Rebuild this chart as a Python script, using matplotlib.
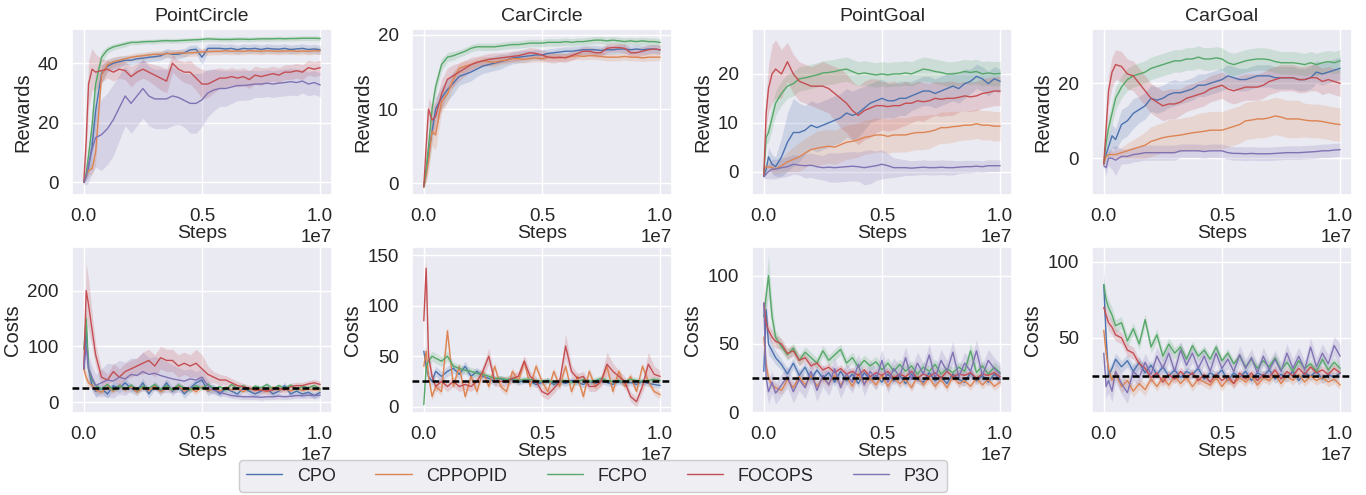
import matplotlib
matplotlib.use("Agg")
import matplotlib.pyplot as plt
import seaborn as sns
import numpy as np

sns.set_theme(style="darkgrid")
plt.rcParams['font.family'] = ['Liberation Sans', 'DejaVu Sans']

algos = ["CPO", "CPPOPID", "FCPO", "FOCOPS", "P3O"]
colors = sns.color_palette("deep")[:5]
envs = ["PointCircle", "CarCircle", "PointGoal", "CarGoal"]
cost_limit = 25

# training steps, in millions
steps_m = [0, 0.1, 0.2, 0.35, 0.5,
           0.75, 1.0, 1.25, 1.5, 1.75, 2.0, 2.25, 2.5, 2.75, 3.0,
           3.25, 3.5, 3.75, 4.0, 4.25, 4.5, 4.75, 5.0, 5.25, 5.5,
           5.75, 6.0, 6.25, 6.5, 6.75, 7.0, 7.25, 7.5, 7.75, 8.0,
           8.25, 8.5, 8.75, 9.0, 9.25, 9.5, 9.75, 10.0]

# ---------------- rewards ----------------
# PointCircle
pc_r_cpo = [0, 2, 5, 12, 24,
            36.5, 39, 40, 40.5, 41, 41, 41.5, 41.7, 42, 42.2,
            42.5, 43.4, 43, 43, 43.5, 44.5, 44.7, 42, 45, 45,
            45, 44.8, 45, 44.5, 45, 44.8, 45, 44.6, 45, 44.8,
            44.7, 45, 44.6, 44.8, 45, 44.6, 44.8, 44.5]
pc_r_cpo_sd = [0.5, 1.5, 3, 5, 6,
               3, 2, 2, 1.8, 1.5, 1.5, 1.5, 1.5, 1.5, 1.5,
               1.5, 1.5, 1.5, 1.5, 1.5, 1.5, 1.5, 2.5, 1.5, 1.5,
               1.5, 1.5, 1.5, 1.5, 1.5, 1.5, 1.5, 1.5, 1.5, 1.5,
               1.5, 1.5, 1.5, 1.5, 1.5, 1.5, 1.5, 1.5]
pc_r_cppopid = [0, 2, 4, 4.5, 10,
                36, 39.5, 40.5, 41, 41.5, 42, 42.3, 42.5, 42.8, 43,
                43, 43.2, 43.3, 43.5, 43.4, 43.5, 43.6, 43.8, 43.9, 44,
                44, 44.2, 44, 44.1, 44, 44.2, 44.1, 44, 44.2, 44.1,
                44, 44.1, 44.2, 44, 44.1, 44, 44.2, 44.1]
pc_r_cppopid_sd = [0.5, 1, 1.5, 2, 4,
                   3, 2, 1.5, 1.5, 1.2, 1.2, 1.2, 1.2, 1.2, 1.2,
                   1.2, 1.2, 1.2, 1.2, 1.2, 1.2, 1.2, 1.2, 1.2, 1.2,
                   1.2, 1.2, 1.2, 1.2, 1.2, 1.2, 1.2, 1.2, 1.2, 1.2,
                   1.2, 1.2, 1.2, 1.2, 1.2, 1.2, 1.2, 1.2]
pc_r_fcpo = [0, 3, 9, 19, 33,
             42, 44.5, 45.5, 46, 46.5, 47, 47, 47.2, 47.3, 47.3,
             47.5, 47.6, 47.5, 47.6, 47.7, 47.8, 47.9, 48, 48.2, 48.1,
             48, 48, 48, 48.1, 48.1, 48, 48.1, 48.2, 48.2, 48.2,
             48.3, 48.2, 48.3, 48.3, 48.4, 48.4, 48.4, 48.3]
pc_r_fcpo_sd = [0.5, 1.5, 3, 4, 4,
                2, 1.2, 1, 1, 1, 0.8, 0.8, 0.8, 0.8, 0.8,
                0.8, 0.8, 0.8, 0.8, 0.8, 0.8, 0.8, 0.8, 0.8, 0.8,
                0.8, 0.8, 0.8, 0.8, 0.8, 0.8, 0.8, 0.8, 0.8, 0.8,
                0.8, 0.8, 0.8, 0.8, 0.8, 0.8, 0.8, 0.8]
pc_r_focops = [0, 14, 33, 38, 37,
               37.5, 38, 37, 38, 37.5, 35.5, 37, 38, 37, 36,
               35, 34, 40, 38, 37, 37, 35, 33, 33, 34,
               35, 35, 35.5, 35, 35.5, 34.5, 36, 35.5, 36, 36.5,
               36, 37, 37, 37.5, 37, 38.5, 38, 38.5]
pc_r_focops_sd = [1, 5, 8, 7, 6,
                  4, 3, 3, 3, 3, 3.5, 3, 3, 3, 3.5,
                  4, 4, 3, 3, 3.5, 4, 4, 5, 4.5, 4,
                  3.5, 3, 3, 3, 3, 3, 3, 3, 2.5, 2.5,
                  2.5, 2.5, 2.5, 2.5, 2.5, 2.5, 2.5, 2.5]
pc_r_p3o = [0, 2, 6, 11, 15,
            16, 18, 21, 25, 29, 26.5, 29, 31.5, 29, 28,
            28, 28, 29, 28.5, 27.5, 26.5, 26.5, 27.7, 30, 31,
            31.5, 31.5, 32, 32.5, 32.5, 32.7, 33, 33, 33.3, 33,
            33.3, 33.5, 33.8, 33.5, 34, 33, 33.5, 32.7]
pc_r_p3o_sd = [0.5, 3, 6, 8, 10,
               12, 12, 12, 11, 10, 10, 10, 10, 10, 10,
               10, 10, 10, 9, 9, 10, 10, 9, 8, 7,
               6, 6, 5.5, 5, 5, 5, 4.5, 4.5, 4.5, 4.5,
               4.5, 4.5, 4.5, 4.5, 4, 4, 4, 4]

# CarCircle (no P3O)
cc_r_cpo = [-0.5, 1.5, 4, 7, 10,
            11.5, 12.6, 13.5, 14.4, 14.7, 15, 15.4, 15.8, 16, 16.2,
            16.4, 16.6, 16.9, 17, 17.1, 17.2, 17.3, 17.3, 17.5, 17.6,
            17.7, 17.8, 17.8, 17.9, 18, 18, 18, 17.9, 18, 18,
            18.1, 18.1, 18, 18.1, 18, 18.1, 18.1, 18]
cc_r_cpo_sd = [0.2, 1, 1.5, 1.5, 1.5,
               1.5, 1.5, 1.5, 1.2, 1.2, 1.2, 1, 1, 1, 1,
               1, 0.8, 0.8, 0.8, 0.8, 0.7, 0.7, 0.7, 0.6, 0.6,
               0.6, 0.6, 0.6, 0.6, 0.6, 0.6, 0.6, 0.6, 0.6, 0.6,
               0.6, 0.6, 0.6, 0.6, 0.6, 0.6, 0.6, 0.6]
cc_r_cppopid = [-0.5, 1, 3, 7, 6.5,
                11, 12, 14, 15.5, 15.8, 16, 16.3, 16.5, 16.4, 16.3,
                16.5, 16.6, 16.8, 16.8, 16.7, 16.8, 16.9, 16.8, 17, 17,
                16.9, 17, 17.1, 17.2, 17.1, 17.2, 17.2, 17.1, 17, 17,
                17, 17.1, 17, 17, 16.9, 17, 17, 17]
cc_r_cppopid_sd = [0.2, 0.8, 1.5, 2, 2,
                   1.5, 1.2, 1, 0.8, 0.8, 0.6, 0.6, 0.6, 0.6, 0.6,
                   0.5, 0.5, 0.5, 0.5, 0.5, 0.5, 0.5, 0.5, 0.5, 0.5,
                   0.5, 0.5, 0.5, 0.5, 0.5, 0.5, 0.5, 0.5, 0.5, 0.5,
                   0.5, 0.5, 0.5, 0.5, 0.5, 0.5, 0.5, 0.5]
cc_r_fcpo = [-0.5, 2, 5, 10, 13,
             16, 17, 17.2, 17.5, 17.8, 18.2, 18.4, 18.4, 18.4, 18.4,
             18.5, 18.6, 18.7, 18.7, 18.8, 18.9, 18.9, 18.9, 19, 19,
             19, 19.1, 19, 19.1, 19.1, 19.2, 19.3, 19.3, 19.2, 19.3,
             19.2, 19.1, 19.2, 19.1, 19.2, 19.1, 19.1, 19.0]
cc_r_fcpo_sd = [0.2, 1, 1.5, 1.5, 1,
                0.8, 0.6, 0.6, 0.5, 0.5, 0.5, 0.5, 0.5, 0.5, 0.5,
                0.5, 0.5, 0.5, 0.5, 0.5, 0.5, 0.5, 0.5, 0.5, 0.5,
                0.5, 0.5, 0.5, 0.5, 0.5, 0.5, 0.5, 0.5, 0.5, 0.5,
                0.5, 0.5, 0.5, 0.5, 0.5, 0.5, 0.5, 0.5]
cc_r_focops = [-0.5, 5, 10, 8.5, 9,
               12, 14, 14.5, 15, 15.5, 16, 16.3, 16.5, 16.7, 16.8,
               16.9, 17, 17.1, 17.2, 17.4, 17.6, 17.5, 17.3, 17, 16.9,
               17, 16.9, 17.2, 17.5, 17.8, 17.8, 17.6, 17.6, 18.2, 18.3,
               18.3, 18.2, 17.6, 17.6, 17.8, 18, 18.1, 18]
cc_r_focops_sd = [0.2, 1.5, 1.5, 2, 2,
                  2, 1.5, 1.5, 1.2, 1, 1, 0.8, 0.8, 0.8, 0.8,
                  0.7, 0.7, 0.7, 0.7, 0.7, 0.7, 0.7, 0.7, 0.7, 0.7,
                  0.6, 0.6, 0.6, 0.6, 0.6, 0.6, 0.6, 0.6, 0.6, 0.6,
                  0.6, 0.6, 0.6, 0.6, 0.6, 0.6, 0.6, 0.6]

# PointGoal
pg_r_cpo = [-1, 0.5, 3, 1.5, 1,
            3, 6, 8, 8, 8.5, 9.5, 9, 9.5, 10, 10.5,
            11, 12, 11.5, 12, 13, 14, 14.5, 15, 14.5, 14.5,
            15, 15, 15.5, 16, 16.5, 16.5, 16, 16.5, 17, 17.5,
            17, 18, 18.5, 19.5, 19, 18, 19, 18.5]
pg_r_cpo_sd = [0.5, 1, 2, 2, 2,
               4, 6, 7, 6, 5, 5, 5, 5, 5, 5,
               5, 5, 5, 5, 4.5, 4, 4, 4, 3.5, 3.5,
               3.5, 3.5, 3, 3, 3, 3, 3, 3, 3, 3,
               3, 3, 2.5, 2.5, 2.5, 2.5, 2.5, 2.5]
pg_r_cppopid = [0.5, 1, 1, 0.8, 0.5,
                1.2, 2, 2.5, 3, 3.8, 4.5, 4.8, 5, 5.2, 5,
                5.5, 6, 6.2, 6.5, 7, 7.2, 7.5, 7.5, 7.2, 7.5,
                7.5, 7.5, 7.8, 8, 8, 8.2, 8.5, 9, 9, 9.2,
                9.3, 9.5, 9.5, 9.8, 9.5, 9.5, 9.3, 9.3]
pg_r_cppopid_sd = [0.3, 0.5, 1, 1, 1,
                   1.5, 2, 2.5, 3, 3, 3, 3.5, 3.5, 3.5, 3.5,
                   3.5, 3.5, 3.5, 3.5, 3.5, 3.5, 3.5, 3.5, 3.5, 3.5,
                   3.5, 3.5, 3.5, 3.5, 3.5, 3.5, 3.2, 3.2, 3.2, 3.2,
                   3, 3, 3, 3, 3, 3, 3, 3]
pg_r_fcpo = [-1, 7, 8, 11, 14,
             16, 17.5, 18, 19, 19.2, 19.5, 19.8, 20.2, 20.3, 20.5,
             20.8, 21, 20.5, 20, 20.2, 20, 19.8, 20, 19.8, 20,
             20, 20.2, 20, 20.5, 21, 20.8, 20.5, 20.3, 20, 20,
             20.2, 20.5, 20.3, 20.5, 20, 20.2, 20, 20.1]
pg_r_fcpo_sd = [0.5, 1.5, 2, 2.5, 2.5,
                2.5, 2.5, 2.5, 2.5, 2.5, 2.5, 2.5, 2.5, 2.5, 2.5,
                2.5, 2.5, 2.5, 2.5, 2.5, 2.5, 2.5, 2.5, 2.5, 2.5,
                2.5, 2.5, 2.5, 2.5, 2.5, 2.5, 2.5, 2.5, 2.5, 2.5,
                2.5, 2.5, 2.5, 2.5, 2.5, 2.5, 2.5, 2.5]
pg_r_focops = [-1, 12, 17, 20, 21,
               20, 22.5, 20, 18.5, 18, 17.5, 17.5, 17.5, 17, 16,
               15, 14, 12.5, 11.5, 12.5, 13, 13.5, 13.5, 13.3, 13.5,
               13.5, 14, 14, 14.5, 14.3, 14.5, 15, 14.8, 15, 15,
               15.2, 15.5, 15.3, 15.5, 16, 16.2, 16.5, 16.5]
pg_r_focops_sd = [0.5, 3, 5, 6, 6,
                  5, 4, 4, 4, 4, 4, 4.5, 5, 5, 5.5,
                  6, 6, 6, 6, 6, 6, 5.5, 5, 5, 5,
                  4.5, 4.5, 4, 4, 4, 3.5, 3.5, 3.5, 3.5, 3.5,
                  3, 3, 3, 3, 3, 3, 3, 3]
pg_r_p3o = [-1, -0.5, 0, 0.5, 0.5,
            0.8, 1, 1.5, 1.3, 1.2, 1.3, 1, 0.8, 0.9, 0.8,
            0.9, 1, 1.1, 1, 0.8, 1, 1.2, 1.5, 1.2, 0.8,
            0.8, 0.8, 0.7, 0.8, 0.9, 0.8, 0.8, 0.9, 0.8, 0.8,
            0.9, 1, 1, 1.1, 1, 1.2, 1.2, 1.2]
pg_r_p3o_sd = [0.3, 1, 1.5, 2, 2,
               2, 2, 2, 2, 2.5, 2.5, 2.5, 2.5, 3, 3,
               3, 3, 3, 3, 3.5, 3.5, 3, 3, 2.5, 2,
               1.8, 1.6, 1.5, 1.5, 1.5, 1.5, 1.5, 1.5, 1.5, 1.5,
               1.3, 1.3, 1.3, 1.2, 1.2, 1.2, 1.2, 1.2]

# CarGoal
cg_r_cpo = [-1.5, 1, 3, 6, 5,
            9, 10, 12, 13, 14, 16, 15.5, 16, 17, 17.5,
            17.5, 18, 18.5, 19.5, 19.5, 20, 20.5, 21, 22, 21.5,
            21, 21, 21.5, 22, 22, 22, 21.5, 21.5, 21.5, 21.5,
            21, 21, 21.5, 23, 22.5, 23, 23.5, 24]
cg_r_cpo_sd = [0.5, 2, 3, 3, 3,
               4, 4, 4, 3.5, 3.5, 3.5, 3.5, 3.5, 3.5, 3.5,
               3, 3, 3, 3, 3, 3, 3, 3, 3, 3,
               3, 3, 3, 3, 3, 3, 3, 3, 3, 3,
               3, 3, 3, 3, 3, 3, 3, 3]
cg_r_cppopid = [-1.5, 0.5, 1, 1, 1,
                1.5, 2, 2.5, 3, 3.5, 4.5, 5, 5.5, 5.8, 6,
                6.2, 6.5, 6.8, 7, 7.2, 7.5, 7.5, 7.5, 8, 8.5,
                9, 10, 10.2, 10.5, 10.5, 10.8, 11.3, 11, 10.5, 10.5,
                10.5, 10.2, 10, 10, 9.8, 9.5, 9.2, 9]
cg_r_cppopid_sd = [0.3, 0.5, 1, 1, 1,
                   1.5, 2, 2.5, 3, 3.5, 4, 4, 4, 4.5, 4.5,
                   4.5, 4.5, 4.5, 5, 5, 5, 5, 5, 5, 5,
                   5, 5, 5, 5, 5, 5, 5, 5, 5, 5,
                   5, 4.5, 4.5, 4.5, 4.5, 4.5, 4.5, 4.5]
cg_r_fcpo = [-1.5, 4, 8, 12, 16,
             19, 21, 22, 22.5, 23, 24, 24.5, 25, 25.5, 26,
             26, 26.5, 26.5, 27, 26.5, 26.5, 26.8, 26.5, 25.5, 25,
             25.5, 26, 26.3, 26.5, 26.5, 26.3, 25.8, 25.5, 25.5, 25.5,
             25.3, 25, 25.5, 25, 25.5, 25.8, 25.5, 26]
cg_r_fcpo_sd = [0.5, 2, 3, 3, 3,
                3, 3, 3, 3, 3, 3, 3, 3, 3, 3,
                3, 3, 3, 3, 3, 3, 3, 3, 3, 3,
                3, 3, 3, 3, 3, 3, 3, 3, 3, 3,
                3, 3, 3, 3, 3, 3, 3, 3]
cg_r_focops = [-1.5, 8, 18, 23, 25,
               24.5, 22.5, 22, 20, 18, 16, 15, 14, 14.5, 14.5,
               15, 16, 16.5, 17, 17.5, 18.5, 19, 19.5, 18.5, 18,
               18.5, 19, 19, 19, 19.5, 20.5, 21, 21.5, 21.5, 21.5,
               21, 21, 21.5, 21.5, 20.5, 21, 20.5, 20]
cg_r_focops_sd = [0.5, 3, 4, 4, 4,
                  4, 4, 4, 4, 4, 4, 4, 4, 4, 4,
                  3.5, 3.5, 3.5, 3.5, 3.5, 3.5, 3.5, 3.5, 3.5, 3.5,
                  3.5, 3.5, 3.5, 3.5, 3.5, 3.5, 3.5, 3.5, 3.5, 3.5,
                  3.5, 3.5, 3.5, 3.5, 3.5, 3.5, 3.5, 3.5]
cg_r_p3o = [-2, -2.5, 0, 0, -0.5,
            0.5, 0.5, 1, 1.2, 1.5, 1.5, 1.5, 1.5, 1.5, 1.5,
            2, 2, 2, 2, 1.8, 2, 2, 2, 1.5, 1.3,
            1.3, 1.2, 1.3, 1.2, 1.2, 1.2, 1.3, 1.4, 1.5, 1.5,
            1.5, 1.6, 1.7, 1.8, 2, 2, 2.2, 2.3]
cg_r_p3o_sd = [0.5, 2, 2, 3, 4,
               2, 2, 2, 2, 2, 2, 2, 2, 2, 2,
               1.8, 1.8, 1.8, 1.8, 1.8, 1.8, 1.8, 1.8, 1.8, 1.8,
               1.8, 1.8, 1.8, 1.8, 1.8, 1.8, 1.8, 1.8, 1.8, 1.8,
               1.8, 1.8, 1.8, 1.8, 1.8, 1.8, 1.8, 1.8]

# ---------------- costs ----------------
# PointCircle
pc_c_cpo = [60, 130, 60, 30, 20,
            25, 15, 30, 25, 35, 25, 20, 35, 15, 30,
            20, 35, 20, 30, 15, 25, 35, 40, 20, 25,
            15, 25, 20, 15, 25, 20, 15, 20, 25, 15,
            20, 30, 15, 20, 15, 18, 12, 18]
pc_c_cpo_sd = [10, 30, 20, 10, 10,
               8, 8, 8, 8, 8, 8, 8, 8, 8, 8,
               8, 8, 8, 8, 8, 8, 8, 8, 8, 8,
               6, 6, 6, 6, 6, 6, 6, 6, 6, 6,
               6, 6, 6, 6, 6, 6, 6, 6]
pc_c_cppopid = [60, 45, 35, 30, 22,
                18, 28, 20, 30, 22, 28, 18, 27, 21, 29,
                19, 26, 22, 30, 20, 25, 19, 28, 21, 24,
                20, 27, 22, 25, 19, 26, 21, 24, 20, 27,
                22, 25, 20, 26, 21, 24, 22, 23]
pc_c_cppopid_sd = [10, 10, 8, 6, 5,
                   5, 5, 5, 5, 5, 5, 5, 5, 5, 5,
                   5, 5, 5, 5, 5, 5, 5, 5, 5, 5,
                   4, 4, 4, 4, 4, 4, 4, 4, 4, 4,
                   4, 4, 4, 4, 4, 4, 4, 4]
pc_c_fcpo = [95, 150, 60, 40, 30,
             24, 32, 22, 30, 24, 31, 22, 29, 25, 32,
             23, 30, 22, 31, 26, 22, 30, 25, 33, 24,
             28, 22, 32, 25, 30, 22, 29, 26, 32, 24,
             30, 25, 31, 23, 29, 26, 30, 24]
pc_c_fcpo_sd = [10, 20, 10, 5, 5,
                4, 4, 4, 4, 4, 4, 4, 4, 4, 4,
                4, 4, 4, 4, 4, 4, 4, 4, 4, 4,
                4, 4, 4, 4, 4, 4, 4, 4, 4, 4,
                4, 4, 4, 4, 4, 4, 4, 4]
pc_c_focops = [60, 200, 175, 130, 85,
               45, 40, 55, 45, 55, 60, 65, 70, 75, 65,
               80, 75, 75, 65, 70, 65, 70, 60, 50, 45,
               40, 40, 35, 30, 28, 25, 22, 22, 20, 22,
               25, 22, 28, 30, 30, 33, 35, 32]
pc_c_focops_sd = [10, 50, 45, 30, 20,
                  15, 10, 15, 15, 15, 15, 15, 20, 20, 20,
                  20, 20, 20, 20, 20, 20, 25, 25, 15, 10,
                  10, 8, 8, 8, 6, 6, 6, 6, 6, 6,
                  6, 6, 6, 6, 6, 6, 6, 6]
pc_c_p3o = [60, 100, 60, 45, 30,
            35, 40, 38, 45, 42, 50, 48, 55, 50, 52,
            48, 45, 42, 40, 38, 42, 40, 45, 30, 22,
            18, 15, 12, 11, 10, 10, 10, 9, 10, 10,
            11, 10, 11, 12, 12, 13, 12, 13]
pc_c_p3o_sd = [10, 30, 25, 20, 20,
               25, 30, 30, 30, 30, 30, 30, 35, 30, 30,
               30, 28, 25, 22, 20, 18, 15, 15, 10, 8,
               6, 5, 5, 5, 5, 5, 5, 5, 5, 5,
               5, 5, 5, 5, 5, 5, 5, 5]

# CarCircle (no P3O)
cc_c_cpo = [55, 40, 30, 25, 35,
            30, 35, 38, 32, 40, 30, 35, 30, 28, 25,
            28, 25, 27, 24, 26, 25, 22, 24, 26, 22,
            25, 23, 26, 24, 22, 25, 23, 26, 24, 22,
            25, 23, 24, 22, 25, 23, 22, 21]
cc_c_cpo_sd = [5, 8, 6, 5, 5,
               5, 5, 5, 5, 5, 5, 4, 4, 4, 4,
               3, 3, 3, 3, 3, 3, 3, 3, 3, 3,
               3, 3, 3, 3, 3, 3, 3, 3, 3, 3,
               3, 3, 3, 3, 3, 3, 3, 3]
cc_c_cppopid = [40, 55, 30, 10, 20,
                15, 75, 20, 40, 10, 30, 15, 35, 20, 40,
                20, 15, 35, 25, 45, 20, 40, 25, 15, 35,
                20, 40, 15, 30, 10, 35, 20, 25, 40, 15,
                35, 20, 30, 15, 40, 25, 15, 12]
cc_c_cppopid_sd = [5, 6, 4, 4, 4,
                   4, 6, 4, 4, 4, 4, 4, 4, 4, 4,
                   4, 4, 4, 4, 4, 4, 4, 4, 4, 4,
                   4, 4, 4, 4, 4, 4, 4, 4, 4, 4,
                   4, 4, 4, 4, 4, 4, 4, 4]
cc_c_fcpo = [2, 40, 45, 50, 48,
             45, 50, 40, 38, 36, 35, 33, 32, 30, 28,
             28, 27, 28, 26, 27, 27, 26, 25, 26, 24,
             25, 26, 24, 25, 27, 25, 26, 28, 26, 25,
             26, 25, 27, 26, 25, 26, 27, 26]
cc_c_fcpo_sd = [2, 6, 5, 5, 5,
                5, 5, 4, 4, 4, 4, 4, 3, 3, 3,
                3, 3, 3, 3, 3, 3, 3, 3, 3, 3,
                3, 3, 3, 3, 3, 3, 3, 3, 3, 3,
                3, 3, 3, 3, 3, 3, 3, 3]
cc_c_focops = [85, 137, 50, 30, 20,
               25, 20, 25, 20, 22, 20, 25, 35, 50, 25,
               25, 25, 28, 30, 45, 30, 25, 15, 12, 18,
               25, 60, 35, 28, 30, 20, 20, 25, 42, 35,
               30, 25, 10, 5, 20, 42, 32, 30]
cc_c_focops_sd = [15, 10, 8, 5, 5,
                  5, 5, 5, 5, 5, 5, 5, 6, 8, 5,
                  5, 5, 5, 5, 6, 5, 5, 5, 5, 5,
                  5, 12, 6, 5, 5, 5, 5, 5, 12, 8,
                  6, 5, 5, 5, 6, 12, 8, 6]

# PointGoal
pg_c_cpo = [30, 75, 50, 45, 40,
            35, 28, 36, 27, 33, 24, 31, 25, 29, 22,
            30, 23, 28, 21, 29, 24, 27, 22, 28, 23,
            27, 21, 28, 24, 22, 29, 23, 26, 21, 28,
            24, 22, 29, 23, 27, 22, 28, 24]
pg_c_cpo_sd = [5, 10, 8, 6, 5,
               4, 4, 4, 4, 4, 4, 3, 3, 3, 3,
               3, 3, 3, 3, 3, 3, 3, 3, 3, 3,
               3, 3, 3, 3, 3, 3, 3, 3, 3, 3,
               3, 3, 3, 3, 3, 3, 3, 3]
pg_c_cppopid = [55, 35, 25, 20, 18,
                16, 24, 18, 26, 20, 27, 19, 25, 21, 27,
                20, 26, 19, 28, 21, 25, 20, 27, 19, 26,
                21, 24, 18, 26, 20, 25, 19, 24, 18, 26,
                21, 23, 19, 25, 20, 24, 19, 22]
pg_c_cppopid_sd = [15, 6, 4, 3, 3,
                   3, 3, 3, 3, 3, 3, 3, 3, 3, 3,
                   3, 3, 3, 3, 3, 3, 3, 3, 3, 3,
                   3, 3, 3, 3, 3, 3, 3, 3, 3, 3,
                   3, 3, 3, 3, 3, 3, 3, 3]
pg_c_fcpo = [70, 85, 100, 70, 55,
             48, 42, 47, 38, 44, 40, 36, 45, 38, 42,
             46, 36, 40, 33, 38, 34, 37, 31, 36, 30,
             35, 30, 34, 28, 33, 30, 35, 28, 32, 29,
             33, 30, 45, 29, 34, 28, 33, 29]
pg_c_fcpo_sd = [10, 10, 15, 10, 5,
                4, 4, 4, 4, 4, 4, 4, 4, 4, 4,
                4, 4, 4, 4, 4, 4, 4, 4, 4, 4,
                4, 4, 4, 4, 4, 4, 4, 4, 4, 4,
                4, 4, 6, 4, 4, 4, 4, 4]
pg_c_focops = [80, 65, 60, 55, 52,
               50, 43, 45, 38, 40, 34, 36, 31, 33, 29,
               32, 28, 30, 27, 31, 26, 29, 27, 30, 25,
               28, 26, 30, 25, 28, 26, 29, 25, 30, 26,
               28, 27, 29, 25, 28, 27, 29, 26]
pg_c_focops_sd = [15, 8, 5, 5, 5,
                  4, 4, 4, 4, 3, 3, 3, 3, 3, 3,
                  3, 3, 3, 3, 3, 3, 3, 3, 3, 3,
                  3, 3, 3, 3, 3, 3, 3, 3, 3, 3,
                  3, 3, 3, 3, 3, 3, 3, 3]
pg_c_p3o = [80, 25, 15, 22, 14,
            20, 26, 15, 24, 18, 30, 16, 27, 20, 32,
            18, 28, 22, 35, 20, 30, 24, 38, 22, 32,
            26, 40, 24, 36, 28, 42, 25, 38, 30, 44,
            26, 36, 30, 45, 27, 38, 32, 28]
pg_c_p3o_sd = [10, 10, 9, 8, 8,
               8, 8, 8, 8, 8, 8, 8, 8, 8, 8,
               8, 8, 8, 8, 8, 8, 8, 8, 8, 8,
               8, 8, 8, 8, 8, 8, 8, 8, 8, 8,
               8, 8, 8, 8, 8, 8, 8, 8]

# CarGoal
cg_c_cpo = [85, 50, 25, 30, 36,
            31, 35, 28, 34, 27, 32, 26, 31, 25, 29,
            24, 28, 26, 30, 23, 27, 25, 29, 22, 27,
            24, 28, 22, 27, 25, 29, 23, 26, 24, 28,
            22, 27, 25, 28, 23, 26, 24, 27]
cg_c_cpo_sd = [15, 8, 5, 4, 4,
               4, 4, 4, 4, 4, 3, 3, 3, 3, 3,
               3, 3, 3, 3, 3, 3, 3, 3, 3, 3,
               3, 3, 3, 3, 3, 3, 3, 3, 3, 3,
               3, 3, 3, 3, 3, 3, 3, 3]
cg_c_cppopid = [55, 40, 30, 22, 27,
                18, 22, 15, 20, 16, 23, 18, 24, 19, 25,
                20, 24, 18, 23, 21, 19, 24, 18, 23, 20,
                24, 21, 25, 19, 24, 22, 26, 20, 25, 22,
                26, 21, 25, 22, 24, 21, 23, 19]
cg_c_cppopid_sd = [8, 5, 4, 4, 4,
                   4, 4, 4, 4, 4, 3, 3, 3, 3, 3,
                   3, 3, 3, 3, 3, 3, 3, 3, 3, 3,
                   3, 3, 3, 3, 3, 3, 3, 3, 3, 3,
                   3, 3, 3, 3, 3, 3, 3, 3]
cg_c_fcpo = [85, 75, 70, 65, 58,
             60, 48, 56, 46, 62, 44, 52, 38, 46, 40,
             44, 36, 45, 38, 42, 36, 44, 35, 40, 33,
             38, 31, 36, 30, 35, 31, 37, 29, 34, 28,
             35, 30, 33, 28, 36, 29, 34, 30]
cg_c_fcpo_sd = [5, 5, 5, 5, 4,
                4, 4, 4, 4, 4, 4, 4, 4, 4, 4,
                3, 3, 3, 3, 3, 3, 3, 3, 3, 3,
                3, 3, 3, 3, 3, 3, 3, 3, 3, 3,
                3, 3, 3, 3, 3, 3, 3, 3]
cg_c_focops = [70, 65, 60, 57, 52,
               50, 42, 40, 33, 30, 24, 27, 21, 26, 23,
               28, 24, 27, 22, 26, 21, 26, 22, 25, 20,
               27, 23, 27, 22, 26, 24, 29, 23, 28, 25,
               30, 26, 31, 27, 29, 26, 30, 27]
cg_c_focops_sd = [5, 5, 5, 5, 4,
                  4, 4, 4, 3, 3, 3, 3, 3, 3, 3,
                  3, 3, 3, 3, 3, 3, 3, 3, 3, 3,
                  3, 3, 3, 3, 3, 3, 3, 3, 3, 3,
                  3, 3, 3, 3, 3, 3, 3, 3]
cg_c_p3o = [40, 18, 22, 15, 28,
            20, 14, 28, 24, 34, 26, 38, 30, 40, 28,
            42, 32, 40, 30, 38, 28, 40, 30, 36, 28,
            39, 30, 37, 27, 38, 29, 36, 28, 40, 30,
            38, 29, 44, 31, 40, 33, 45, 38]
cg_c_p3o_sd = [8, 8, 8, 7, 7,
               7, 7, 6, 6, 6, 6, 6, 6, 6, 6,
               6, 6, 6, 6, 6, 6, 6, 6, 6, 6,
               6, 6, 6, 6, 6, 6, 6, 6, 6, 6,
               6, 6, 6, 6, 6, 6, 6, 8]

rewards = {
    "PointCircle": {"CPO": (pc_r_cpo, pc_r_cpo_sd), "CPPOPID": (pc_r_cppopid, pc_r_cppopid_sd),
                    "FCPO": (pc_r_fcpo, pc_r_fcpo_sd), "FOCOPS": (pc_r_focops, pc_r_focops_sd),
                    "P3O": (pc_r_p3o, pc_r_p3o_sd)},
    "CarCircle": {"CPO": (cc_r_cpo, cc_r_cpo_sd), "CPPOPID": (cc_r_cppopid, cc_r_cppopid_sd),
                  "FCPO": (cc_r_fcpo, cc_r_fcpo_sd), "FOCOPS": (cc_r_focops, cc_r_focops_sd)},
    "PointGoal": {"CPO": (pg_r_cpo, pg_r_cpo_sd), "CPPOPID": (pg_r_cppopid, pg_r_cppopid_sd),
                  "FCPO": (pg_r_fcpo, pg_r_fcpo_sd), "FOCOPS": (pg_r_focops, pg_r_focops_sd),
                  "P3O": (pg_r_p3o, pg_r_p3o_sd)},
    "CarGoal": {"CPO": (cg_r_cpo, cg_r_cpo_sd), "CPPOPID": (cg_r_cppopid, cg_r_cppopid_sd),
                "FCPO": (cg_r_fcpo, cg_r_fcpo_sd), "FOCOPS": (cg_r_focops, cg_r_focops_sd),
                "P3O": (cg_r_p3o, cg_r_p3o_sd)},
}
costs = {
    "PointCircle": {"CPO": (pc_c_cpo, pc_c_cpo_sd), "CPPOPID": (pc_c_cppopid, pc_c_cppopid_sd),
                    "FCPO": (pc_c_fcpo, pc_c_fcpo_sd), "FOCOPS": (pc_c_focops, pc_c_focops_sd),
                    "P3O": (pc_c_p3o, pc_c_p3o_sd)},
    "CarCircle": {"CPO": (cc_c_cpo, cc_c_cpo_sd), "CPPOPID": (cc_c_cppopid, cc_c_cppopid_sd),
                  "FCPO": (cc_c_fcpo, cc_c_fcpo_sd), "FOCOPS": (cc_c_focops, cc_c_focops_sd)},
    "PointGoal": {"CPO": (pg_c_cpo, pg_c_cpo_sd), "CPPOPID": (pg_c_cppopid, pg_c_cppopid_sd),
                  "FCPO": (pg_c_fcpo, pg_c_fcpo_sd), "FOCOPS": (pg_c_focops, pg_c_focops_sd),
                  "P3O": (pg_c_p3o, pg_c_p3o_sd)},
    "CarGoal": {"CPO": (cg_c_cpo, cg_c_cpo_sd), "CPPOPID": (cg_c_cppopid, cg_c_cppopid_sd),
                "FCPO": (cg_c_fcpo, cg_c_fcpo_sd), "FOCOPS": (cg_c_focops, cg_c_focops_sd),
                "P3O": (cg_c_p3o, cg_c_p3o_sd)},
}

# axis ranges
ylims_r = {"PointCircle": (-4.3, 51.5), "CarCircle": (-1.6, 20.8),
           "PointGoal": (-4.8, 29.2), "CarGoal": (-9.8, 34.5)}
ylims_c = {"PointCircle": (-19, 278), "CarCircle": (-6.2, 158),
           "PointGoal": (-0.5, 121), "CarGoal": (0.7, 109.7)}
yticks_r = {"PointCircle": [0, 20, 40], "CarCircle": [0, 10, 20],
            "PointGoal": [0, 10, 20], "CarGoal": [0, 20]}
yticks_c = {"PointCircle": [0, 100, 200], "CarCircle": [0, 50, 100, 150],
            "PointGoal": [0, 50, 100], "CarGoal": [50, 100]}

x = np.array(steps_m) * 1e6

fig, axes = plt.subplots(2, 4, figsize=(13.66, 4.95), dpi=100)
fig.subplots_adjust(left=0.0527, right=0.9897, top=0.9414, bottom=0.1657,
                    wspace=0.3077, hspace=0.313)

for j, env in enumerate(envs):
    for row, (data, ylab) in enumerate([(rewards, "Rewards"), (costs, "Costs")]):
        ax = axes[row, j]
        for algo, c in zip(algos, colors):
            if algo not in data[env]:
                continue
            m, s = data[env][algo]
            m = np.array(m)
            s = np.array(s)
            ax.fill_between(x, m - s, m + s, color=c, alpha=0.2, lw=0)
            ax.plot(x, m, color=c, lw=1.0, label=algo)
        if row == 0:
            ax.set_title(env, fontsize=14)
            ax.set_ylim(*ylims_r[env])
            ax.set_yticks(yticks_r[env])
        else:
            ax.axhline(cost_limit, color="black", ls=(0, (2.7, 1.3)), lw=1.8, zorder=5)
            ax.set_ylim(*ylims_c[env])
            ax.set_yticks(yticks_c[env])
        ax.set_xticks([0, 5e6, 1e7])
        ax.set_xlabel("Steps", fontsize=14, labelpad=0)
        ax.set_ylabel(ylab, fontsize=14.5)
        ax.tick_params(labelsize=13.5)
        ax.xaxis.get_offset_text().set_fontsize(13.5)

handles, labels = axes[0, 0].get_legend_handles_labels()
fig.legend(handles, labels, loc="lower center", bbox_to_anchor=(0.434, -0.012), ncol=5,
           fontsize=13, handlelength=2.0, columnspacing=2.2, frameon=True,
           facecolor="#EEEEF3", edgecolor="#CCCCCC", framealpha=1)

fig.savefig("out.png", dpi=100)
